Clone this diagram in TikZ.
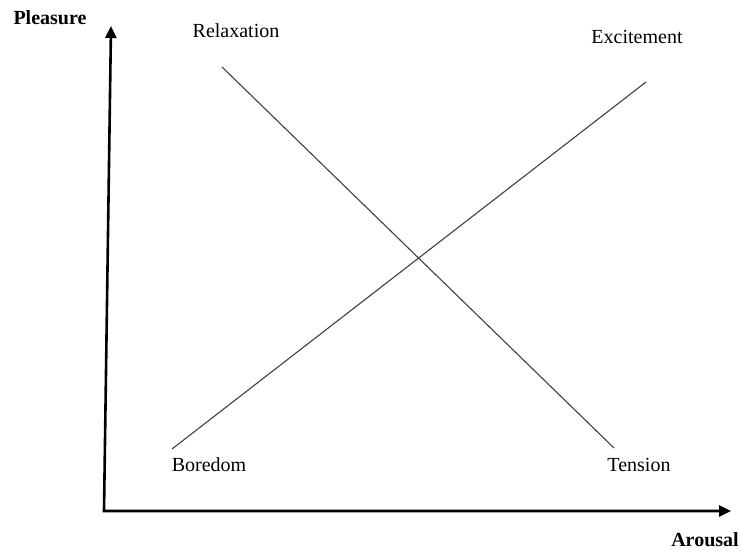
\documentclass[tikz,border=0pt]{standalone}
\usepackage{fontspec}
\setmainfont{Liberation Serif}
\usetikzlibrary{arrows.meta}

\begin{document}
\begin{tikzpicture}[x=1pt,y=-1pt,>={Triangle[length=12pt,width=11pt]},
  axis/.style={line width=2.6pt},
  diag/.style={line width=1.1pt,black!75},
  lbl/.style={font=\fontsize{20}{24}\selectfont,inner sep=0pt},
  axlbl/.style={font=\fontsize{20}{24}\selectfont\bfseries,inner sep=0pt}]
  \useasboundingbox (0,0) rectangle (741,553);

  % axes
  \coordinate (O) at (104,511);
  \coordinate (ytop) at (111,26);
  \coordinate (xend) at (731,511);
  \draw[axis,<->] (ytop) -- (O) -- (xend);
  \node[axlbl] (pleasure) at (50,18) {Pleasure};
  \node[axlbl] (arousal) at (705,540) {Arousal};

  % the two diagonals
  \coordinate (relaxA) at (222,67);
  \coordinate (relaxB) at (614,448);
  \coordinate (exciteA) at (172,449);
  \coordinate (exciteB) at (646,82);
  \draw[diag] (relaxA) -- (relaxB);
  \draw[diag] (exciteA) -- (exciteB);

  \node[lbl] (relax) at (236,31) {Relaxation};
  \node[lbl] (excite) at (637,37) {Excitement};
  \node[lbl] (bored) at (209,465) {Boredom};
  \node[lbl] (tension) at (639,465) {Tension};
\end{tikzpicture}
\end{document}
